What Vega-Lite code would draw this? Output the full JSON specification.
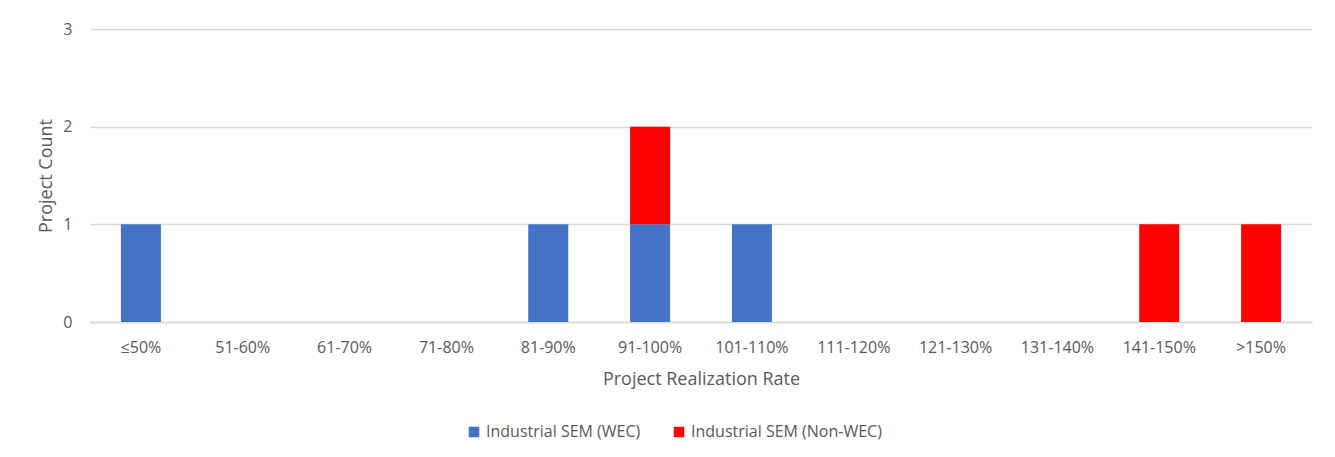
{
  "$schema": "https://vega.github.io/schema/vega-lite/v6.json",
  "width": 1222,
  "height": 293,
  "autosize": {"type": "none"},
  "padding": {"left": 90, "top": 29, "right": 23, "bottom": 135},
  "background": "white",
  "config": {
    "font": "Open Sans",
    "view": {"stroke": null},
    "axis": {"labelColor": "#595959", "titleColor": "#595959", "labelFont": "Open Sans", "titleFont": "Open Sans", "titleFontWeight": "normal"},
    "legend": {"labelColor": "#595959", "labelFont": "Open Sans"}
  },
  "data": {
    "values": [
      {"rate": "≤50%", "series": "Industrial SEM (WEC)", "count": 1},
      {"rate": "81-90%", "series": "Industrial SEM (WEC)", "count": 1},
      {"rate": "91-100%", "series": "Industrial SEM (WEC)", "count": 1},
      {"rate": "91-100%", "series": "Industrial SEM (Non-WEC)", "count": 1},
      {"rate": "101-110%", "series": "Industrial SEM (WEC)", "count": 1},
      {"rate": "141-150%", "series": "Industrial SEM (Non-WEC)", "count": 1},
      {"rate": ">150%", "series": "Industrial SEM (Non-WEC)", "count": 1}
    ]
  },
  "mark": {"type": "bar"},
  "encoding": {
    "x": {
      "field": "rate",
      "type": "nominal",
      "title": "Project Realization Rate",
      "scale": {
        "domain": ["≤50%", "51-60%", "61-70%", "71-80%", "81-90%", "91-100%", "101-110%", "111-120%", "121-130%", "131-140%", "141-150%", ">150%"],
        "paddingInner": 0.607,
        "paddingOuter": 0.3035
      },
      "axis": {
        "labelAngle": 0,
        "labelFontSize": 16,
        "titleFontSize": 18,
        "ticks": false,
        "domainColor": "#d9d9d9",
        "domainWidth": 1.5,
        "labelPadding": 17,
        "titlePadding": 15
      }
    },
    "y": {
      "field": "count",
      "type": "quantitative",
      "aggregate": "sum",
      "stack": "zero",
      "title": "Project Count",
      "scale": {"domain": [0, 3]},
      "axis": {
        "values": [0, 1, 2, 3],
        "labelFontSize": 16,
        "titleFontSize": 18,
        "ticks": false,
        "domain": false,
        "gridColor": "#d9d9d9",
        "gridWidth": 1.5,
        "labelPadding": 18,
        "titlePadding": 7
      }
    },
    "color": {
      "field": "series",
      "type": "nominal",
      "title": null,
      "scale": {
        "domain": ["Industrial SEM (WEC)", "Industrial SEM (Non-WEC)"],
        "range": ["#4472C4", "#FF0000"]
      },
      "legend": {
        "orient": "none",
        "legendX": 376,
        "legendY": 395,
        "direction": "horizontal",
        "symbolType": "square",
        "symbolSize": 110,
        "symbolStrokeWidth": 0,
        "labelFontSize": 16,
        "labelLimit": 400,
        "columnPadding": 30
      }
    },
    "order": {"field": "series", "sort": "descending"}
  }
}
